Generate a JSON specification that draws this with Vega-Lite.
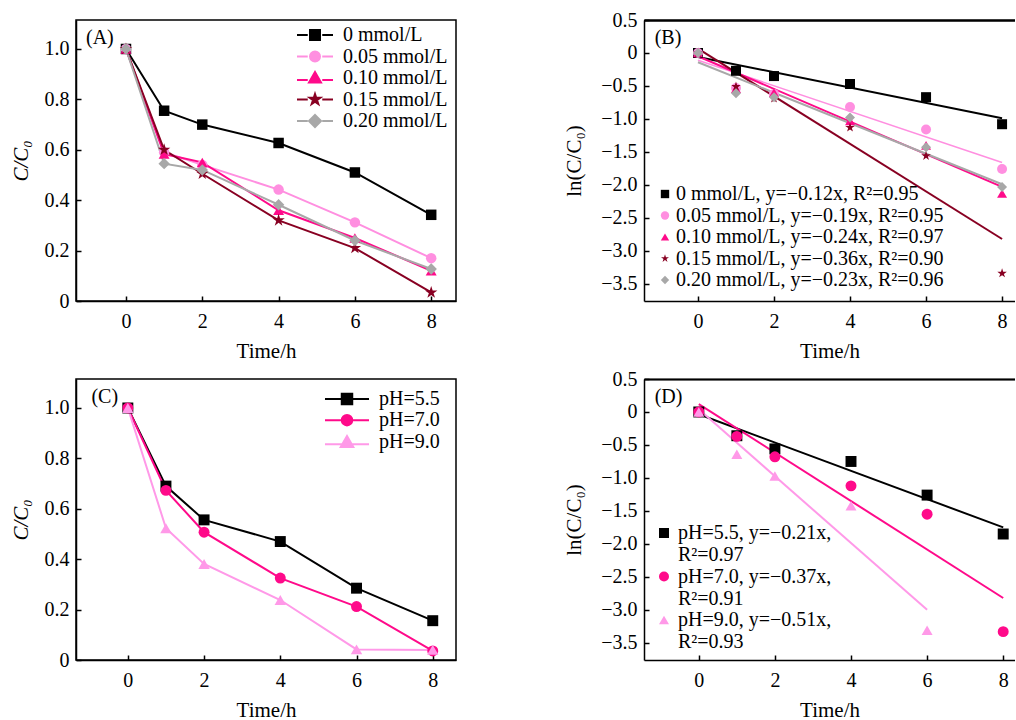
{
  "$schema": "https://vega.github.io/schema/vega-lite/v6.json",
  "padding": {"left": 9, "top": 10, "right": 0, "bottom": 0},
  "background": "white",
  "datasets": {
    "A": [
      {"t": 0, "v": 1.0, "s": "0 mmol/L"}, {"t": 1, "v": 0.755, "s": "0 mmol/L"}, {"t": 2, "v": 0.70, "s": "0 mmol/L"}, {"t": 4, "v": 0.627, "s": "0 mmol/L"}, {"t": 6, "v": 0.51, "s": "0 mmol/L"}, {"t": 8, "v": 0.342, "s": "0 mmol/L"},
      {"t": 0, "v": 1.0, "s": "0.05 mmol/L"}, {"t": 1, "v": 0.59, "s": "0.05 mmol/L"}, {"t": 2, "v": 0.54, "s": "0.05 mmol/L"}, {"t": 4, "v": 0.442, "s": "0.05 mmol/L"}, {"t": 6, "v": 0.312, "s": "0.05 mmol/L"}, {"t": 8, "v": 0.17, "s": "0.05 mmol/L"},
      {"t": 0, "v": 1.0, "s": "0.10 mmol/L"}, {"t": 1, "v": 0.583, "s": "0.10 mmol/L"}, {"t": 2, "v": 0.55, "s": "0.10 mmol/L"}, {"t": 4, "v": 0.36, "s": "0.10 mmol/L"}, {"t": 6, "v": 0.25, "s": "0.10 mmol/L"}, {"t": 8, "v": 0.12, "s": "0.10 mmol/L"},
      {"t": 0, "v": 1.0, "s": "0.15 mmol/L"}, {"t": 1, "v": 0.60, "s": "0.15 mmol/L"}, {"t": 2, "v": 0.505, "s": "0.15 mmol/L"}, {"t": 4, "v": 0.32, "s": "0.15 mmol/L"}, {"t": 6, "v": 0.21, "s": "0.15 mmol/L"}, {"t": 8, "v": 0.034, "s": "0.15 mmol/L"},
      {"t": 0, "v": 1.0, "s": "0.20 mmol/L"}, {"t": 1, "v": 0.545, "s": "0.20 mmol/L"}, {"t": 2, "v": 0.52, "s": "0.20 mmol/L"}, {"t": 4, "v": 0.382, "s": "0.20 mmol/L"}, {"t": 6, "v": 0.24, "s": "0.20 mmol/L"}, {"t": 8, "v": 0.127, "s": "0.20 mmol/L"}
    ],
    "B": [
      {"t": 0, "v": 0, "s": "0 mmol/L, y=−0.12x, R²=0.95"}, {"t": 1, "v": -0.27, "s": "0 mmol/L, y=−0.12x, R²=0.95"}, {"t": 2, "v": -0.35, "s": "0 mmol/L, y=−0.12x, R²=0.95"}, {"t": 4, "v": -0.47, "s": "0 mmol/L, y=−0.12x, R²=0.95"}, {"t": 6, "v": -0.67, "s": "0 mmol/L, y=−0.12x, R²=0.95"}, {"t": 8, "v": -1.08, "s": "0 mmol/L, y=−0.12x, R²=0.95"},
      {"t": 0, "v": 0, "s": "0.05 mmol/L, y=−0.19x, R²=0.95"}, {"t": 1, "v": -0.53, "s": "0.05 mmol/L, y=−0.19x, R²=0.95"}, {"t": 2, "v": -0.62, "s": "0.05 mmol/L, y=−0.19x, R²=0.95"}, {"t": 4, "v": -0.82, "s": "0.05 mmol/L, y=−0.19x, R²=0.95"}, {"t": 6, "v": -1.16, "s": "0.05 mmol/L, y=−0.19x, R²=0.95"}, {"t": 8, "v": -1.76, "s": "0.05 mmol/L, y=−0.19x, R²=0.95"},
      {"t": 0, "v": 0, "s": "0.10 mmol/L, y=−0.24x, R²=0.97"}, {"t": 1, "v": -0.54, "s": "0.10 mmol/L, y=−0.24x, R²=0.97"}, {"t": 2, "v": -0.60, "s": "0.10 mmol/L, y=−0.24x, R²=0.97"}, {"t": 4, "v": -1.03, "s": "0.10 mmol/L, y=−0.24x, R²=0.97"}, {"t": 6, "v": -1.40, "s": "0.10 mmol/L, y=−0.24x, R²=0.97"}, {"t": 8, "v": -2.13, "s": "0.10 mmol/L, y=−0.24x, R²=0.97"},
      {"t": 0, "v": 0, "s": "0.15 mmol/L, y=−0.36x, R²=0.90"}, {"t": 1, "v": -0.51, "s": "0.15 mmol/L, y=−0.36x, R²=0.90"}, {"t": 2, "v": -0.69, "s": "0.15 mmol/L, y=−0.36x, R²=0.90"}, {"t": 4, "v": -1.13, "s": "0.15 mmol/L, y=−0.36x, R²=0.90"}, {"t": 6, "v": -1.56, "s": "0.15 mmol/L, y=−0.36x, R²=0.90"}, {"t": 8, "v": -3.34, "s": "0.15 mmol/L, y=−0.36x, R²=0.90"},
      {"t": 0, "v": 0, "s": "0.20 mmol/L, y=−0.23x, R²=0.96"}, {"t": 1, "v": -0.61, "s": "0.20 mmol/L, y=−0.23x, R²=0.96"}, {"t": 2, "v": -0.67, "s": "0.20 mmol/L, y=−0.23x, R²=0.96"}, {"t": 4, "v": -0.98, "s": "0.20 mmol/L, y=−0.23x, R²=0.96"}, {"t": 6, "v": -1.43, "s": "0.20 mmol/L, y=−0.23x, R²=0.96"}, {"t": 8, "v": -2.03, "s": "0.20 mmol/L, y=−0.23x, R²=0.96"}
    ],
    "Bfit": [
      {"t": 0, "v": -0.06, "s": "0"}, {"t": 8, "v": -0.99, "s": "0"},
      {"t": 0, "v": -0.11, "s": "0.05"}, {"t": 8, "v": -1.66, "s": "0.05"},
      {"t": 0, "v": -0.05, "s": "0.10"}, {"t": 8, "v": -2.03, "s": "0.10"},
      {"t": 0, "v": 0.065, "s": "0.15"}, {"t": 8, "v": -2.82, "s": "0.15"},
      {"t": 0, "v": -0.14, "s": "0.20"}, {"t": 8, "v": -1.99, "s": "0.20"}
    ],
    "C": [
      {"t": 0, "v": 1.0, "s": "pH=5.5"}, {"t": 1, "v": 0.69, "s": "pH=5.5"}, {"t": 2, "v": 0.556, "s": "pH=5.5"}, {"t": 4, "v": 0.47, "s": "pH=5.5"}, {"t": 6, "v": 0.285, "s": "pH=5.5"}, {"t": 8, "v": 0.156, "s": "pH=5.5"},
      {"t": 0, "v": 1.0, "s": "pH=7.0"}, {"t": 1, "v": 0.673, "s": "pH=7.0"}, {"t": 2, "v": 0.507, "s": "pH=7.0"}, {"t": 4, "v": 0.325, "s": "pH=7.0"}, {"t": 6, "v": 0.212, "s": "pH=7.0"}, {"t": 8, "v": 0.036, "s": "pH=7.0"},
      {"t": 0, "v": 1.0, "s": "pH=9.0"}, {"t": 1, "v": 0.523, "s": "pH=9.0"}, {"t": 2, "v": 0.381, "s": "pH=9.0"}, {"t": 4, "v": 0.238, "s": "pH=9.0"}, {"t": 6, "v": 0.042, "s": "pH=9.0"}, {"t": 8, "v": 0.04, "s": "pH=9.0"}
    ],
    "D": [
      {"t": 0, "v": 0, "s": "pH=5.5"}, {"t": 1, "v": -0.36, "s": "pH=5.5"}, {"t": 2, "v": -0.56, "s": "pH=5.5"}, {"t": 4, "v": -0.75, "s": "pH=5.5"}, {"t": 6, "v": -1.26, "s": "pH=5.5"}, {"t": 8, "v": -1.85, "s": "pH=5.5"},
      {"t": 0, "v": 0, "s": "pH=7.0"}, {"t": 1, "v": -0.37, "s": "pH=7.0"}, {"t": 2, "v": -0.68, "s": "pH=7.0"}, {"t": 4, "v": -1.12, "s": "pH=7.0"}, {"t": 6, "v": -1.55, "s": "pH=7.0"}, {"t": 8, "v": -3.33, "s": "pH=7.0"},
      {"t": 0, "v": 0, "s": "pH=9.0"}, {"t": 1, "v": -0.64, "s": "pH=9.0"}, {"t": 2, "v": -0.97, "s": "pH=9.0"}, {"t": 4, "v": -1.42, "s": "pH=9.0"}, {"t": 6, "v": -3.31, "s": "pH=9.0"}
    ],
    "Dfit": [
      {"t": 0, "v": -0.035, "s": "pH=5.5"}, {"t": 8, "v": -1.75, "s": "pH=5.5"},
      {"t": 0, "v": 0.12, "s": "pH=7.0"}, {"t": 8, "v": -2.82, "s": "pH=7.0"},
      {"t": 0, "v": 0.04, "s": "pH=9.0"}, {"t": 6, "v": -3.0, "s": "pH=9.0"}
    ]
  },
  "config": {
    "font": "Liberation Serif",
    "view": {"stroke": "black", "strokeWidth": 1.5},
    "axis": {
      "labelFont": "Liberation Serif", "labelFontSize": 20, "labelColor": "black",
      "titleFont": "Liberation Serif", "titleFontSize": 21, "titleFontWeight": "normal", "titleColor": "black",
      "grid": false, "tickSize": -5, "tickColor": "black", "tickWidth": 1.5,
      "domainColor": "black", "domainWidth": 1.5
    },
    "axisX": {"labelPadding": 15, "titlePadding": 9},
    "axisY": {"labelPadding": 12, "titlePadding": 13},
    "legend": {"labelFont": "Liberation Serif", "labelFontSize": 20, "labelColor": "black", "padding": 0, "rowPadding": 1.5, "labelLimit": 0, "direction": "vertical"},
    "title": {"font": "Liberation Serif", "fontSize": 20, "fontWeight": "normal", "color": "black", "anchor": "start", "baseline": "middle", "frame": "group"}
  },
  "columns": 2,
  "spacing": {"row": 78, "column": 188},
  "bounds": "flush",
  "resolve": {"scale": {"color": "independent", "shape": "independent", "fill": "independent", "stroke": "independent", "x": "independent", "y": "independent"}, "legend": {"color": "independent", "shape": "independent", "fill": "independent", "stroke": "independent"}},
  "concat": [
    {
      "width": 380, "height": 281,
      "title": {"text": "(A)", "offset": -27.5, "dx": 10},
      "data": {"name": "A"},
      "encoding": {
        "x": {"field": "t", "type": "quantitative", "scale": {"domain": [-1.31, 8.65], "nice": false, "zero": false}, "axis": {"values": [0, 2, 4, 6, 8], "title": "Time/h"}},
        "y": {"field": "v", "type": "quantitative", "scale": {"domain": [0, 1.115], "nice": false, "zero": false}, "axis": {"values": [0, 0.2, 0.4, 0.6, 0.8, 1.0], "labelExpr": "datum.value == 0 ? '0' : format(datum.value, '.1f')", "title": "C/C₀", "titleFontStyle": "italic"}}
      },
      "layer": [
        {"transform": [{"filter": "datum.s == '0 mmol/L'"}], "mark": {"type": "line", "strokeWidth": 2, "color": "#000000"}},
        {"transform": [{"filter": "datum.s == '0.05 mmol/L'"}], "mark": {"type": "line", "strokeWidth": 2, "color": "#ff8fe0"}},
        {"transform": [{"filter": "datum.s == '0.10 mmol/L'"}], "mark": {"type": "line", "strokeWidth": 2, "color": "#ff0a8a"}},
        {"transform": [{"filter": "datum.s == '0.15 mmol/L'"}], "mark": {"type": "line", "strokeWidth": 2, "color": "#880022"}},
        {"transform": [{"filter": "datum.s == '0.20 mmol/L'"}], "mark": {"type": "line", "strokeWidth": 2, "color": "#a8a8a8"}},
        {"transform": [{"filter": "datum.s == '0 mmol/L'"}], "mark": {"type": "point", "filled": true, "opacity": 1, "color": "#000000", "shape": "square", "size": 110}},
        {"transform": [{"filter": "datum.s == '0.05 mmol/L'"}], "mark": {"type": "point", "filled": true, "opacity": 1, "color": "#ff8fe0", "shape": "circle", "size": 110}},
        {"transform": [{"filter": "datum.s == '0.10 mmol/L'"}], "mark": {"type": "point", "filled": true, "opacity": 1, "color": "#ff0a8a", "shape": "triangle-up", "size": 120}},
        {"transform": [{"filter": "datum.s == '0.15 mmol/L'"}], "mark": {"type": "point", "filled": true, "opacity": 1, "color": "#880022", "shape": "M0,-1L0.225,-0.309L0.951,-0.309L0.363,0.118L0.588,0.809L0,0.382L-0.588,0.809L-0.363,0.118L-0.951,-0.309L-0.225,-0.309Z", "size": 170}},
        {"transform": [{"filter": "datum.s == '0.20 mmol/L'"}], "mark": {"type": "point", "filled": true, "opacity": 1, "color": "#a8a8a8", "shape": "diamond", "size": 130}},
        {
          "mark": {"type": "point", "opacity": 0, "strokeWidth": 2, "size": 100},
          "encoding": {
            "shape": {"field": "s", "type": "nominal", "scale": {"domain": ["0 mmol/L", "0.05 mmol/L", "0.10 mmol/L", "0.15 mmol/L", "0.20 mmol/L"], "range": ["M-3.6,0H-1.45M1.45,0H3.6M-1,-1H1V1H-1Z", "M-3.6,0H-1.45M1.45,0H3.6M1,0A1,1,0,1,1,-1,0A1,1,0,1,1,1,0Z", "M-3.6,0.4H-1.45M1.45,0.4H3.6M0,-1.2L1.2,0.9H-1.2Z", "M-3.6,0H-1.45M1.45,0H3.6M0,-1.1L0.25,-0.34L1.05,-0.34L0.4,0.13L0.65,0.89L0,0.42L-0.65,0.89L-0.4,0.13L-1.05,-0.34L-0.25,-0.34Z", "M-3.6,0H-1.45M1.45,0H3.6M0,-1.2L1.2,0L0,1.2L-1.2,0Z"]}, "legend": {"title": null, "orient": "none", "legendX": 229, "legendY": 5, "labelOffset": 18, "symbolSize": 100, "symbolStrokeWidth": 2, "symbolOpacity": 1, "encode": {"symbols": {"update": {"opacity": {"value": 1}, "strokeWidth": {"value": 2}}}}}},
            "fill": {"field": "s", "type": "nominal", "scale": {"domain": ["0 mmol/L", "0.05 mmol/L", "0.10 mmol/L", "0.15 mmol/L", "0.20 mmol/L"], "range": ["#000000", "#ff8fe0", "#ff0a8a", "#880022", "#a8a8a8"]}, "legend": {"title": null, "orient": "none", "legendX": 229, "legendY": 5, "labelOffset": 18, "symbolSize": 100, "symbolStrokeWidth": 2, "symbolOpacity": 1, "encode": {"symbols": {"update": {"opacity": {"value": 1}, "strokeWidth": {"value": 2}}}}}},
            "stroke": {"field": "s", "type": "nominal", "scale": {"domain": ["0 mmol/L", "0.05 mmol/L", "0.10 mmol/L", "0.15 mmol/L", "0.20 mmol/L"], "range": ["#000000", "#ff8fe0", "#ff0a8a", "#880022", "#a8a8a8"]}, "legend": {"title": null, "orient": "none", "legendX": 229, "legendY": 5, "labelOffset": 18, "symbolSize": 100, "symbolStrokeWidth": 2, "symbolOpacity": 1, "encode": {"symbols": {"update": {"opacity": {"value": 1}, "strokeWidth": {"value": 2}}}}}}
          }
        }
      ]
    },
    {
      "width": 371, "height": 281,
      "view": {"stroke": null},
      "title": {"text": "(B)", "offset": -38, "dx": 10.7},
      "encoding": {
        "y": {"field": "v", "type": "quantitative", "scale": {"domain": [-3.76, 0.5], "nice": false, "zero": false}, "axis": {"values": [0.5, 0, -0.5, -1, -1.5, -2, -2.5, -3, -3.5], "labelExpr": "datum.value == 0 ? '0' : format(datum.value, '.1f')", "title": "ln(C/C₀)", "titlePadding": 16}}
      },
      "layer": [
        {"data": {"name": "Bfit"}, "transform": [{"filter": "datum.s == '0'"}], "mark": {"type": "line", "strokeWidth": 2, "color": "#000000"}, "encoding": {"x": {"field": "t", "type": "quantitative", "scale": {"domain": [-1.42, 8.34], "nice": false, "zero": false}, "axis": {"orient": "top", "labels": false, "ticks": false, "title": null, "domain": true}}}},
        {"data": {"name": "Bfit"}, "transform": [{"filter": "datum.s == '0.05'"}], "mark": {"type": "line", "strokeWidth": 1.6, "color": "#ff8fe0"}, "encoding": {"x": {"field": "t", "type": "quantitative", "scale": {"domain": [-1.42, 8.34], "nice": false, "zero": false}, "axis": {"orient": "top", "labels": false, "ticks": false, "title": null, "domain": true}}}},
        {"data": {"name": "Bfit"}, "transform": [{"filter": "datum.s == '0.10'"}], "mark": {"type": "line", "strokeWidth": 2, "color": "#ff0a8a"}, "encoding": {"x": {"field": "t", "type": "quantitative", "scale": {"domain": [-1.42, 8.34], "nice": false, "zero": false}, "axis": {"orient": "top", "labels": false, "ticks": false, "title": null, "domain": true}}}},
        {"data": {"name": "Bfit"}, "transform": [{"filter": "datum.s == '0.15'"}], "mark": {"type": "line", "strokeWidth": 2, "color": "#880022"}, "encoding": {"x": {"field": "t", "type": "quantitative", "scale": {"domain": [-1.42, 8.34], "nice": false, "zero": false}, "axis": {"orient": "top", "labels": false, "ticks": false, "title": null, "domain": true}}}},
        {"data": {"name": "Bfit"}, "transform": [{"filter": "datum.s == '0.20'"}], "mark": {"type": "line", "strokeWidth": 2, "color": "#a8a8a8"}, "encoding": {"x": {"field": "t", "type": "quantitative", "scale": {"domain": [-1.42, 8.34], "nice": false, "zero": false}, "axis": {"orient": "top", "labels": false, "ticks": false, "title": null, "domain": true}}}},
        {
          "data": {"name": "B"},
          "mark": {"type": "point", "filled": true, "opacity": 1, "size": 100},
          "encoding": {
            "x": {"field": "t", "type": "quantitative", "scale": {"domain": [-1.42, 8.34], "nice": false, "zero": false}, "axis": {"orient": "bottom", "values": [0, 2, 4, 6, 8], "title": "Time/h"}},
            "color": {"field": "s", "type": "nominal", "scale": {"domain": ["0 mmol/L, y=−0.12x, R²=0.95", "0.05 mmol/L, y=−0.19x, R²=0.95", "0.10 mmol/L, y=−0.24x, R²=0.97", "0.15 mmol/L, y=−0.36x, R²=0.90", "0.20 mmol/L, y=−0.23x, R²=0.96"], "range": ["#000000", "#ff8fe0", "#ff0a8a", "#880022", "#a8a8a8"]}, "legend": {"title": null, "orient": "none", "legendX": 11, "legendY": 164, "labelOffset": 1, "symbolSize": 70, "encode": {"symbols": {"update": {"size": {"value": 70}}}}}},
            "shape": {"field": "s", "type": "nominal", "scale": {"domain": ["0 mmol/L, y=−0.12x, R²=0.95", "0.05 mmol/L, y=−0.19x, R²=0.95", "0.10 mmol/L, y=−0.24x, R²=0.97", "0.15 mmol/L, y=−0.36x, R²=0.90", "0.20 mmol/L, y=−0.23x, R²=0.96"], "range": ["square", "circle", "triangle-up", "M0,-1L0.225,-0.309L0.951,-0.309L0.363,0.118L0.588,0.809L0,0.382L-0.588,0.809L-0.363,0.118L-0.951,-0.309L-0.225,-0.309Z", "diamond"]}, "legend": {"title": null, "orient": "none", "legendX": 11, "legendY": 164, "labelOffset": 1, "symbolSize": 70, "encode": {"symbols": {"update": {"size": {"value": 70}}}}}}
          }
        }
      ]
    },
    {
      "width": 380, "height": 281,
      "title": {"text": "(C)", "offset": -27.5, "dx": 15.4},
      "data": {"name": "C"},
      "encoding": {
        "x": {"field": "t", "type": "quantitative", "scale": {"domain": [-1.36, 8.61], "nice": false, "zero": false}, "axis": {"values": [0, 2, 4, 6, 8], "title": "Time/h"}},
        "y": {"field": "v", "type": "quantitative", "scale": {"domain": [0, 1.115], "nice": false, "zero": false}, "axis": {"values": [0, 0.2, 0.4, 0.6, 0.8, 1.0], "labelExpr": "datum.value == 0 ? '0' : format(datum.value, '.1f')", "title": "C/C₀", "titleFontStyle": "italic"}}
      },
      "layer": [
        {"transform": [{"filter": "datum.s == 'pH=5.5'"}], "mark": {"type": "line", "strokeWidth": 2, "color": "#000000"}},
        {"transform": [{"filter": "datum.s == 'pH=7.0'"}], "mark": {"type": "line", "strokeWidth": 2, "color": "#ff0a8a"}},
        {"transform": [{"filter": "datum.s == 'pH=9.0'"}], "mark": {"type": "line", "strokeWidth": 2, "color": "#ff99e8"}},
        {"transform": [{"filter": "datum.s == 'pH=5.5'"}], "mark": {"type": "point", "filled": true, "opacity": 1, "color": "#000000", "shape": "square", "size": 120}},
        {"transform": [{"filter": "datum.s == 'pH=7.0'"}], "mark": {"type": "point", "filled": true, "opacity": 1, "color": "#ff0a8a", "shape": "circle", "size": 120}},
        {"transform": [{"filter": "datum.s == 'pH=9.0'"}], "mark": {"type": "point", "filled": true, "opacity": 1, "color": "#ff99e8", "shape": "triangle-up", "size": 130}},
        {
          "mark": {"type": "point", "opacity": 0, "strokeWidth": 2, "size": 110},
          "encoding": {
            "shape": {"field": "s", "type": "nominal", "scale": {"domain": ["pH=5.5", "pH=7.0", "pH=9.0"], "range": ["M-4.2,0H4.2M-1,-1H1V1H-1Z", "M-4.2,0H4.2M1,0A1,1,0,1,1,-1,0A1,1,0,1,1,1,0Z", "M-4.2,0.35H4.2M0,-1.2L1.2,0.9H-1.2Z"]}, "legend": {"title": null, "orient": "none", "legendX": 261, "legendY": 10, "labelOffset": 22, "symbolSize": 110, "symbolStrokeWidth": 2, "symbolOpacity": 1, "rowPadding": 1.2, "encode": {"symbols": {"update": {"opacity": {"value": 1}, "strokeWidth": {"value": 2}}}}}},
            "fill": {"field": "s", "type": "nominal", "scale": {"domain": ["pH=5.5", "pH=7.0", "pH=9.0"], "range": ["#000000", "#ff0a8a", "#ff99e8"]}, "legend": {"title": null, "orient": "none", "legendX": 261, "legendY": 10, "labelOffset": 22, "symbolSize": 110, "symbolStrokeWidth": 2, "symbolOpacity": 1, "rowPadding": 1.2, "encode": {"symbols": {"update": {"opacity": {"value": 1}, "strokeWidth": {"value": 2}}}}}},
            "stroke": {"field": "s", "type": "nominal", "scale": {"domain": ["pH=5.5", "pH=7.0", "pH=9.0"], "range": ["#000000", "#ff0a8a", "#ff99e8"]}, "legend": {"title": null, "orient": "none", "legendX": 261, "legendY": 10, "labelOffset": 22, "symbolSize": 110, "symbolStrokeWidth": 2, "symbolOpacity": 1, "rowPadding": 1.2, "encode": {"symbols": {"update": {"opacity": {"value": 1}, "strokeWidth": {"value": 2}}}}}}
          }
        }
      ]
    },
    {
      "width": 371, "height": 281,
      "view": {"stroke": null},
      "title": {"text": "(D)", "offset": -38, "dx": 10.7},
      "encoding": {
        "y": {"field": "v", "type": "quantitative", "scale": {"domain": [-3.76, 0.5], "nice": false, "zero": false}, "axis": {"values": [0.5, 0, -0.5, -1, -1.5, -2, -2.5, -3, -3.5], "labelExpr": "datum.value == 0 ? '0' : format(datum.value, '.1f')", "title": "ln(C/C₀)", "titlePadding": 16}}
      },
      "layer": [
        {"data": {"name": "Dfit"}, "transform": [{"filter": "datum.s == 'pH=5.5'"}], "mark": {"type": "line", "strokeWidth": 2, "color": "#000000"}, "encoding": {"x": {"field": "t", "type": "quantitative", "scale": {"domain": [-1.44, 8.31], "nice": false, "zero": false}, "axis": {"orient": "top", "labels": false, "ticks": false, "title": null, "domain": true}}}},
        {"data": {"name": "Dfit"}, "transform": [{"filter": "datum.s == 'pH=7.0'"}], "mark": {"type": "line", "strokeWidth": 2, "color": "#ff0a8a"}, "encoding": {"x": {"field": "t", "type": "quantitative", "scale": {"domain": [-1.44, 8.31], "nice": false, "zero": false}, "axis": {"orient": "top", "labels": false, "ticks": false, "title": null, "domain": true}}}},
        {"data": {"name": "Dfit"}, "transform": [{"filter": "datum.s == 'pH=9.0'"}], "mark": {"type": "line", "strokeWidth": 2, "color": "#ff99e8"}, "encoding": {"x": {"field": "t", "type": "quantitative", "scale": {"domain": [-1.44, 8.31], "nice": false, "zero": false}, "axis": {"orient": "top", "labels": false, "ticks": false, "title": null, "domain": true}}}},
        {
          "data": {"name": "D"},
          "mark": {"type": "point", "filled": true, "opacity": 1, "size": 120},
          "encoding": {
            "x": {"field": "t", "type": "quantitative", "scale": {"domain": [-1.44, 8.31], "nice": false, "zero": false}, "axis": {"orient": "bottom", "values": [0, 2, 4, 6, 8], "title": "Time/h"}},
            "color": {"field": "s", "type": "nominal", "scale": {"domain": ["pH=5.5", "pH=7.0", "pH=9.0"], "range": ["#000000", "#ff0a8a", "#ff99e8"]}, "legend": {"title": null, "orient": "none", "legendX": 10, "legendY": 144, "labelOffset": 4, "symbolSize": 100, "labelBaseline": "middle", "encode": {"labels": {"update": {"dy": {"value": 11}}}, "symbols": {"update": {"size": {"value": 100}}}}, "labelExpr": "datum.label == 'pH=5.5' ? ['pH=5.5, y=−0.21x,', 'R²=0.97'] : datum.label == 'pH=7.0' ? ['pH=7.0, y=−0.37x,', 'R²=0.91'] : ['pH=9.0, y=−0.51x,', 'R²=0.93']"}},
            "shape": {"field": "s", "type": "nominal", "scale": {"domain": ["pH=5.5", "pH=7.0", "pH=9.0"], "range": ["square", "circle", "triangle-up"]}, "legend": {"title": null, "orient": "none", "legendX": 10, "legendY": 144, "labelOffset": 4, "symbolSize": 100, "labelBaseline": "middle", "encode": {"labels": {"update": {"dy": {"value": 11}}}, "symbols": {"update": {"size": {"value": 100}}}}, "labelExpr": "datum.label == 'pH=5.5' ? ['pH=5.5, y=−0.21x,', 'R²=0.97'] : datum.label == 'pH=7.0' ? ['pH=7.0, y=−0.37x,', 'R²=0.91'] : ['pH=9.0, y=−0.51x,', 'R²=0.93']"}}
          }
        }
      ]
    }
  ]
}
